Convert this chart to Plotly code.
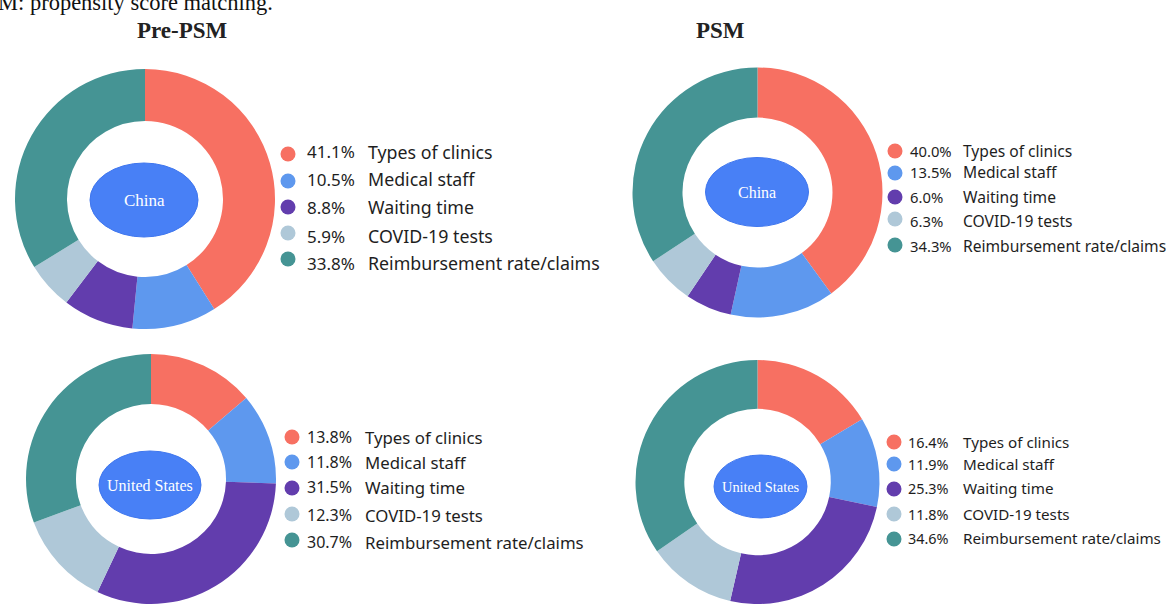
import plotly.graph_objects as go

W, H = 1166, 604

# ---- data ----
categories = ["Types of clinics", "Medical staff", "Waiting time",
              "COVID-19 tests", "Reimbursement rate/claims"]
china_pre = [41.1, 10.5, 8.8, 5.9, 33.8]
us_pre = [13.8, 11.8, 31.5, 12.3, 30.7]
china_psm = [40.0, 13.5, 6.0, 6.3, 34.3]
us_psm = [16.4, 11.9, 25.3, 11.8, 34.6]
colors = ["#F77062", "#5E98EE", "#623DAD", "#AFC8D8", "#459494"]
column_titles = ["Pre-PSM", "PSM"]
countries = ["China", "United States"]

# ---- layout (pixel positions) ----
panels = [
    dict(values=china_pre, country=countries[0], cx=145, cy=199, r=130,
         ell=(144, 200, 54, 37), ell_font=17,
         dot_x=288, dot_ys=[154, 181, 207, 233, 259], dot_r=7.5,
         pct_x=305, label_x=366, text_ys=[152, 179, 207, 236, 263], fs=17.8),
    dict(values=china_psm, country=countries[0], cx=757.5, cy=192.5, r=125,
         ell=(757, 192, 51.5, 34.5), ell_font=16,
         dot_x=895, dot_ys=[151, 173, 197, 219, 245], dot_r=7.5,
         pct_x=908, label_x=961, text_ys=[151, 172, 197, 221, 246], fs=15.6),
    dict(values=us_pre, country=countries[1], cx=151, cy=479, r=125,
         ell=(150, 485, 51, 34), ell_font=16,
         dot_x=292, dot_ys=[437, 462, 488, 514, 540], dot_r=7.5,
         pct_x=305, label_x=363, text_ys=[437, 462, 487, 515, 542], fs=16.8),
    dict(values=us_psm, country=countries[1], cx=757.5, cy=482, r=122,
         ell=(760.5, 486.5, 46.5, 31.5), ell_font=14.4,
         dot_x=894, dot_ys=[442, 464, 489, 514, 539], dot_r=7.5,
         pct_x=906, label_x=961, text_ys=[442, 464, 488, 514, 538], fs=15.2),
]


def px(x):
    return x / W


def py(y):
    return 1 - y / H


fig = go.Figure()
shapes = []
annotations = []

for p in panels:
    cx, cy, r = p["cx"], p["cy"], p["r"]
    fig.add_trace(go.Pie(
        labels=categories, values=p["values"], hole=0.6, sort=False,
        direction="clockwise", rotation=0,
        marker=dict(colors=colors, line=dict(width=0)),
        textinfo="none", hoverinfo="label+percent", showlegend=False,
        domain=dict(x=[px(cx - r), px(cx + r)], y=[py(cy + r), py(cy - r)]),
    ))
    ex, ey, ea, eb = p["ell"]
    shapes.append(dict(type="circle", xref="paper", yref="paper",
                       x0=px(ex - ea), x1=px(ex + ea), y0=py(ey + eb), y1=py(ey - eb),
                       fillcolor="#4880F6", line=dict(color="#3F76EE", width=1),
                       layer="above"))
    annotations.append(dict(text=p["country"], x=px(ex), y=py(ey), xref="paper", yref="paper",
                            showarrow=False, xanchor="center", yanchor="middle",
                            font=dict(family="Liberation Serif", size=p["ell_font"], color="white")))
    for i, cat in enumerate(categories):
        dy = p["dot_ys"][i]
        dr = p["dot_r"]
        shapes.append(dict(type="circle", xref="paper", yref="paper",
                           x0=px(p["dot_x"] - dr), x1=px(p["dot_x"] + dr),
                           y0=py(dy + dr), y1=py(dy - dr),
                           fillcolor=colors[i], line=dict(width=0)))
        ty = p["text_ys"][i]
        annotations.append(dict(text=f"{p['values'][i]:.1f}%", x=px(p["pct_x"]), y=py(ty),
                                xref="paper", yref="paper", showarrow=False,
                                xanchor="left", yanchor="middle",
                                font=dict(family="Noto Sans", size=p["fs"] - 0.8, color="#1E1E1E")))
        annotations.append(dict(text=cat, x=px(p["label_x"]), y=py(ty),
                                xref="paper", yref="paper", showarrow=False,
                                xanchor="left", yanchor="middle",
                                font=dict(family="Noto Sans", size=p["fs"], color="#1E1E1E")))

# column titles
annotations.append(dict(text=f"<b>{column_titles[0]}</b>", x=px(182), y=py(30), xref="paper", yref="paper",
                        showarrow=False, xanchor="center", yanchor="middle",
                        font=dict(family="Liberation Serif", size=23, color="#222222")))
annotations.append(dict(text=f"<b>{column_titles[1]}</b>", x=px(720), y=py(30), xref="paper", yref="paper",
                        showarrow=False, xanchor="center", yanchor="middle",
                        font=dict(family="Liberation Serif", size=23, color="#222222")))
# cropped caption at the very top (cut off in the reference too)
annotations.append(dict(text="M: propensity score matching.", x=px(-4), y=py(3), xref="paper", yref="paper",
                        showarrow=False, xanchor="left", yanchor="middle",
                        font=dict(family="Liberation Serif", size=22.5, color="#111111")))

fig.update_layout(
    width=W, height=H,
    margin=dict(l=0, r=0, t=0, b=0),
    paper_bgcolor="white", plot_bgcolor="white",
    shapes=shapes, annotations=annotations,
)

fig.write_html("out.html", config={"displayModeBar": False},
               post_script="document.body.style.margin='0';document.body.style.overflow='hidden';")
